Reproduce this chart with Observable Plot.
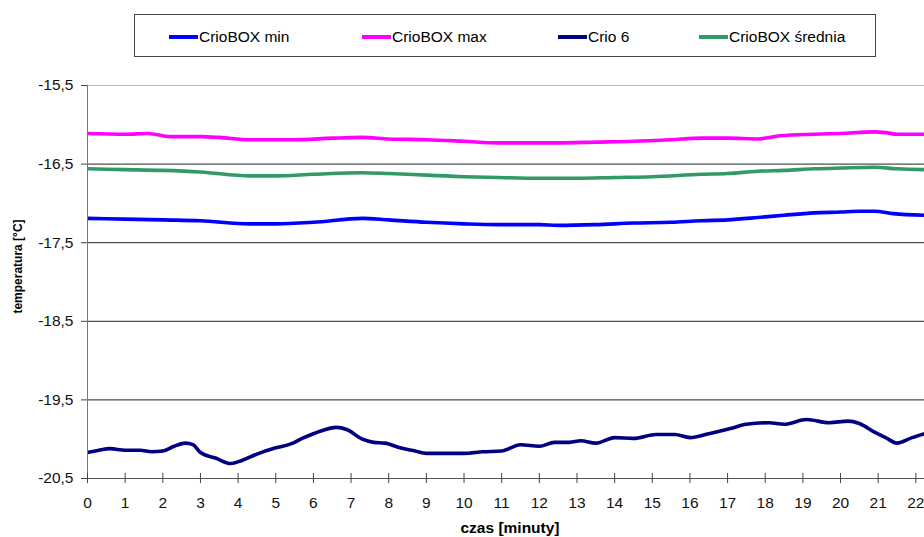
<!DOCTYPE html>
<html>
<head>
<meta charset="utf-8">
<script src="https://cdn.jsdelivr.net/npm/d3@7"></script>
<script src="https://cdn.jsdelivr.net/npm/@observablehq/plot@0.6"></script>
<style>
  html, body { margin: 0; padding: 0; background: #fff; }
  body { width: 924px; height: 537px; overflow: hidden; font-family: "Liberation Sans", Arial, sans-serif; }
  #legendWrap { position: relative; width: 924px; height: 65px; }
  #legend { position: absolute; left: 134px; top: 14px; width: 742px; height: 43px; border: 1px solid #444; box-sizing: border-box; }
  .item { position: absolute; top: 0; height: 43px; display: flex; align-items: center; font-size: 15.5px; color: #000; }
  .swatch { display: inline-block; width: 29px; height: 4px; margin-right: 1px; }
  #chart svg { display: block; }
</style>
</head>
<body>
<div id="legendWrap"><div id="legend"></div></div>
<div id="chart"></div>
<script>
// ---- data (minutes, °C) ----
const seriesNames = ["CrioBOX min", "CrioBOX max", "Crio 6", "CrioBOX średnia"];
const seriesColors = ["#0000ff", "#ff00ff", "#000080", "#339966"];

const minT = [0, 1, 2, 3, 4.3, 5, 6, 7.3, 8, 9, 10, 10.9, 12, 12.5, 13.5, 14.5, 15.5, 16.3, 17, 17.8, 18.5, 19.3, 20, 20.5, 20.9, 21.4, 22.23];
const minV = [-17.19, -17.20, -17.21, -17.22, -17.26, -17.26, -17.24, -17.19, -17.21, -17.24, -17.26, -17.27, -17.27, -17.28, -17.27, -17.25, -17.24, -17.22, -17.21, -17.18, -17.15, -17.12, -17.11, -17.10, -17.10, -17.13, -17.15];

const maxT = [0, 1, 1.6, 2.2, 3, 3.5, 4.3, 5.5, 6.5, 7.3, 8, 9, 10, 10.9, 12, 12.5, 13.5, 14.5, 15.5, 16.3, 17, 17.8, 18.4, 19.3, 20, 20.9, 21.2, 21.5, 22.23];
const maxV = [-16.11, -16.12, -16.11, -16.15, -16.15, -16.16, -16.19, -16.19, -16.17, -16.16, -16.18, -16.19, -16.21, -16.23, -16.23, -16.23, -16.22, -16.21, -16.19, -16.17, -16.17, -16.18, -16.14, -16.12, -16.11, -16.09, -16.10, -16.12, -16.12];

const crioT = [0, 0.3, 0.6, 1.0, 1.4, 1.7, 2.0, 2.3, 2.6, 2.8, 3.0, 3.4, 3.8, 4.1, 4.5, 5.0, 5.4, 5.7, 6.0, 6.3, 6.6, 6.9, 7.3, 7.6, 7.9, 8.3, 8.7, 9.0, 9.5, 10.0, 10.5, 11.0, 11.5, 12.0, 12.4, 12.8, 13.1, 13.5, 14.0, 14.5, 15.1, 15.6, 16.0, 16.5, 17.1, 17.5, 18.1, 18.5, 19.1, 19.7, 20.2, 20.5, 20.9, 21.2, 21.5, 21.9, 22.23];
const crioV = [-20.17, -20.14, -20.12, -20.14, -20.14, -20.16, -20.15, -20.09, -20.05, -20.07, -20.17, -20.24, -20.31, -20.27, -20.19, -20.11, -20.06, -19.99, -19.93, -19.88, -19.85, -19.88, -20.00, -20.04, -20.05, -20.11, -20.15, -20.18, -20.18, -20.18, -20.16, -20.15, -20.07, -20.09, -20.04, -20.04, -20.02, -20.05, -19.98, -19.99, -19.94, -19.94, -19.98, -19.93, -19.86, -19.81, -19.79, -19.81, -19.75, -19.79, -19.77, -19.80, -19.91, -19.98, -20.05, -19.98, -19.93];

const avgT = [0, 1, 2, 3, 4.3, 5, 6, 7.3, 8, 9, 10, 10.9, 12, 13, 14, 15, 16.3, 17, 17.8, 18.5, 19.3, 20, 20.9, 21.5, 22.23];
const avgV = [-16.56, -16.57, -16.58, -16.60, -16.65, -16.65, -16.63, -16.61, -16.62, -16.64, -16.66, -16.67, -16.68, -16.68, -16.67, -16.66, -16.63, -16.62, -16.59, -16.58, -16.56, -16.55, -16.54, -16.56, -16.57];

const xTicks = [0,1,2,3,4,5,6,7,8,9,10,11,12,13,14,15,16,17,18,19,20,21,22];
const yTicks = [-20.5, -19.5, -18.5, -17.5, -16.5, -15.5];
const xTitle = "czas [minuty]";
const yTitle = "temperatura [°C]";

const toRows = (ts, vs) => ts.map((t, i) => ({t, v: vs[i]}));
const rows = [toRows(minT, minV), toRows(maxT, maxV), toRows(crioT, crioV), toRows(avgT, avgV)];

// ---- legend ----
const legendX = [34, 227, 423, 564];
const legend = document.getElementById("legend");
seriesNames.forEach((name, i) => {
  const it = document.createElement("div");
  it.className = "item";
  it.style.left = legendX[i] + "px";
  const sw = document.createElement("span");
  sw.className = "swatch";
  sw.style.background = seriesColors[i];
  it.appendChild(sw);
  it.appendChild(document.createTextNode(name));
  legend.appendChild(it);
});

// ---- chart ----
const fmt = d => d.toFixed(1).replace(".", ",");
const drawOrder = [2, 0, 3, 1];

const chart = Plot.plot({
  width: 924,
  height: 472,
  marginLeft: 87,
  marginRight: 0,
  marginTop: 20,
  marginBottom: 59,
  style: {fontFamily: "'Liberation Sans', Arial, sans-serif", background: "#fff", overflow: "hidden"},
  x: {domain: [0, 22.23], label: null},
  y: {domain: [-20.5, -15.5], label: null},
  marks: [
    Plot.ruleY(yTicks.filter(d => d > -20.5 && d < -15.5), {stroke: "#222", strokeWidth: 1}),
    Plot.ruleY([-15.5], {stroke: "#bbb", strokeWidth: 1}),
    ...drawOrder.map(i => Plot.line(rows[i], {x: "t", y: "v", stroke: seriesColors[i], strokeWidth: 3.6, curve: "monotone-x", clip: true})),
    Plot.ruleX([0], {stroke: "#777", strokeWidth: 1}),
    Plot.ruleY([-20.5], {stroke: "#555", strokeWidth: 1}),
    Plot.axisY({ticks: yTicks, tickFormat: fmt, tickSize: 6, tickPadding: 8, fontSize: 15.5, stroke: "#444", color: "#111", label: null}),
    Plot.axisX({ticks: xTicks, tickFormat: d => String(d), tickSize: 10, dy: -5, text: null, stroke: "#444", label: null}),
    Plot.axisX({ticks: xTicks, tickFormat: d => String(d), tickSize: 0, tickPadding: 18, fontSize: 15.5, color: "#111", label: null}),
    Plot.text([yTitle], {frameAnchor: "left", textAnchor: "middle", dx: -69, dy: -15.5, rotate: -90, text: d => d, fontSize: 12, fontWeight: "bold", fill: "#000"}),
    Plot.text([xTitle], {frameAnchor: "bottom", textAnchor: "middle", lineAnchor: "middle", dx: 4, dy: 50, text: d => d, fontSize: 15.5, fontWeight: "bold", fill: "#000"})
  ]
});
document.getElementById("chart").appendChild(chart);
</script>
</body>
</html>
